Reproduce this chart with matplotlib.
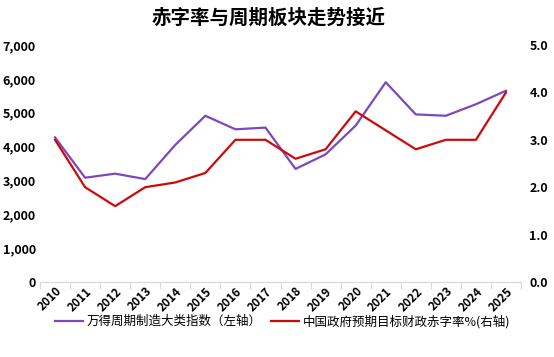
import numpy as np
import matplotlib
matplotlib.use("Agg")
import matplotlib.pyplot as plt
from matplotlib.ticker import FuncFormatter

plt.rcParams['font.family'] = ['Noto Sans CJK SC', 'DejaVu Sans']

# data
years = [str(y) for y in range(2010, 2026)]
index_vals = [4270, 3080, 3200, 3040, 4050, 4910, 4510, 4560,
              3340, 3770, 4620, 5900, 4950, 4910, 5250, 5650]
deficit = [3.0, 2.0, 1.6, 2.0, 2.1, 2.3, 3.0, 3.0,
           2.6, 2.8, 3.6, 3.2, 2.8, 3.0, 3.0, 4.0]

purple = '#7D48BE'
red = '#CC0A0A'

fig = plt.figure(figsize=(5.54, 3.57), dpi=100)
ax = fig.add_axes([40/554, 1-282/357, 481/554, 237/357])
ax2 = ax.twinx()

x = np.arange(len(years))
l1, = ax.plot(x, index_vals, color=purple, lw=1.6, label='万得周期制造大类指数（左轴）')
l2, = ax2.plot(x, deficit, color=red, lw=1.6, label='中国政府预期目标财政赤字率%(右轴)')

ax.set_xlim(-0.5, len(years) - 0.5)
ax.set_ylim(0, 7000)
ax2.set_ylim(0, 5)
ax.set_yticks(np.arange(0, 7001, 1000))
ax2.set_yticks(np.arange(0, 5.01, 1))
ax.yaxis.set_major_formatter(FuncFormatter(lambda v, p: f'{int(v):,}'))
ax2.yaxis.set_major_formatter(FuncFormatter(lambda v, p: f'{v:.1f}'))

for a in (ax, ax2):
    for s in ('top', 'left', 'right'):
        a.spines[s].set_visible(False)
    a.spines['bottom'].set_color('#d9d9d9')
    a.tick_params(axis='y', length=0, labelsize=9)
    for t in a.get_yticklabels():
        t.set_fontweight('bold')

ax.tick_params(axis='y', pad=3)
ax2.tick_params(axis='y', pad=6)

# category ticks on boundaries, labels at centers
ax.set_xticks(np.arange(-0.5, len(years), 1))
ax.set_xticklabels([])
ax.tick_params(axis='x', which='major', length=5, color='#d9d9d9')
ax.set_xticks(x, minor=True)
ax.set_xticklabels(years, minor=True, rotation=45, ha='right',
                   rotation_mode='anchor', fontsize=8.5, fontweight='bold')
ax.tick_params(axis='x', which='minor', length=0, pad=2)

fig.suptitle('赤字率与周期板块走势接近', x=0.485, y=0.975, fontsize=14, fontweight='bold')

fig.legend(handles=[l1, l2], loc='center', bbox_to_anchor=(0.51, 0.1),
           ncol=2, frameon=False, fontsize=9, handlelength=2.2,
           handletextpad=0.3, columnspacing=0.8)

fig.savefig('out.png', dpi=100)
